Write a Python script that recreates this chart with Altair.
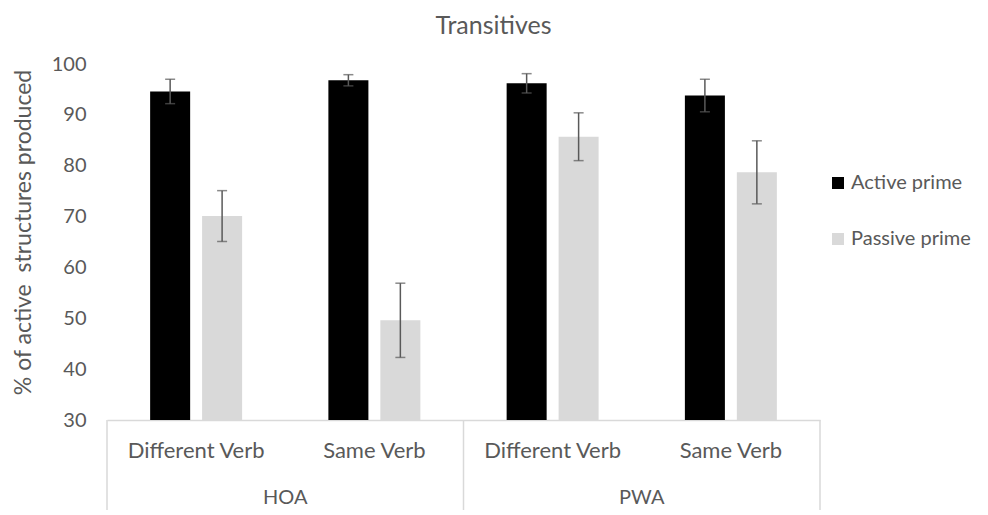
import altair as alt
import pandas as pd

groups = ["HOA", "HOA", "PWA", "PWA"]
verbs = ["Different Verb", "Same Verb", "Different Verb", "Same Verb"]
series = ["Active prime", "Passive prime"]
active = [94.6, 96.8, 96.2, 93.8]
active_err = [2.4, 1.1, 1.9, 3.2]
passive = [70.1, 49.6, 85.7, 78.7]
passive_err = [5.0, 7.3, 4.7, 6.2]
y_ticks = [30, 40, 50, 60, 70, 80, 90, 100]
y_min, y_max = 30, 100

FONT = "Lato"
GREY = "#595959"
LINE = "#d9d9d9"

keys = [f"{g}|{v}" for g, v in zip(groups, verbs)]
rows = []
for i, k in enumerate(keys):
    for s, vals, errs in ((series[0], active, active_err), (series[1], passive, passive_err)):
        rows.append({"key": k, "prime": s, "value": vals[i],
                     "lo": vals[i] - errs[i], "hi": vals[i] + errs[i]})
df = pd.DataFrame(rows)

W, H = 713, 356

xscale = alt.Scale(domain=keys, paddingInner=0, paddingOuter=0)
xoff = alt.XOffset("prime:N", sort=series,
                   scale=alt.Scale(domain=series, paddingInner=0.23, paddingOuter=0.83))
yscale = alt.Scale(domain=[y_min, y_max], nice=False, zero=False)

bars = alt.Chart(df).mark_bar().encode(
    x=alt.X("key:N", scale=xscale, sort=keys, title=None,
            axis=alt.Axis(labelExpr="split(datum.label, '|')[1]", labelAngle=0,
                          labelFont=FONT, labelFontSize=22, labelColor=GREY,
                          labelPadding=20, ticks=False, domainColor=LINE,
                          domainWidth=1.5)),
    xOffset=xoff,
    y=alt.Y("value:Q", scale=yscale,
            axis=alt.Axis(values=y_ticks, grid=False, domain=False, ticks=False,
                          labelFont=FONT, labelFontSize=20, labelColor=GREY,
                          labelPadding=21,
                          title="% of active\u00a0 structures produced",
                          titleFont=FONT, titleFontSize=23, titleColor=GREY,
                          titleFontWeight="normal", titleX=-84, titleY=168,
                          titleAngle=-90, titleAlign="center",
                          titleBaseline="middle")),
    y2=alt.datum(y_min),
    color=alt.Color("prime:N", sort=series,
                    scale=alt.Scale(domain=series, range=["#000000", "#d9d9d9"]),
                    legend=alt.Legend(title=None, orient="none", legendX=721,
                                      legendY=109, symbolType="square",
                                      symbolSize=144, symbolStrokeWidth=0,
                                      labelFont=FONT, labelFontSize=20,
                                      labelColor=GREY, labelOffset=3,
                                      rowPadding=36)),
)

err_rule = alt.Chart(df).mark_rule(color=GREY, strokeWidth=1.5).encode(
    x=alt.X("key:N", sort=keys), xOffset=alt.XOffset("prime:N", sort=series),
    y="lo:Q", y2="hi:Q")
cap_hi = alt.Chart(df).mark_tick(color=GREY, size=10, thickness=1.5).encode(
    x=alt.X("key:N", sort=keys), xOffset=alt.XOffset("prime:N", sort=series),
    y="hi:Q")
cap_lo = alt.Chart(df).mark_tick(color=GREY, size=10, thickness=1.5).encode(
    x=alt.X("key:N", sort=keys), xOffset=alt.XOffset("prime:N", sort=series),
    y="lo:Q")

sep_df = pd.DataFrame({"key": [keys[0], keys[2]]})
sep = alt.Chart(sep_df).mark_rule(color=LINE, strokeWidth=1.5).encode(
    x=alt.X("key:N", sort=keys, bandPosition=0),
    y=alt.value(H), y2=alt.value(H + 92))
sep_end = alt.Chart(pd.DataFrame({"key": [keys[3]]})).mark_rule(
    color=LINE, strokeWidth=1.5).encode(
    x=alt.X("key:N", sort=keys, bandPosition=1),
    y=alt.value(H), y2=alt.value(H + 92))

grp_df = pd.DataFrame({"key": [keys[1], keys[3]], "grp": [groups[1], groups[3]]})
grp_text = alt.Chart(grp_df).mark_text(font=FONT, fontSize=20, color=GREY,
                                       baseline="middle").encode(
    x=alt.X("key:N", sort=keys, bandPosition=0),
    y=alt.value(H + 78), text="grp:N")

chart = alt.layer(bars, err_rule, cap_hi, cap_lo, sep, sep_end, grp_text).properties(
    width=W, height=H,
    title=alt.TitleParams("Transitives", font=FONT, fontSize=25, color=GREY,
                          fontWeight="normal", dx=30, offset=15),
    autosize=alt.AutoSizeParams(type="none"),
    padding={"left": 99, "top": 56, "right": 160, "bottom": 90},
).configure_view(stroke=None)

chart.save("out.html", embed_options={"renderer": "svg", "actions": False})
